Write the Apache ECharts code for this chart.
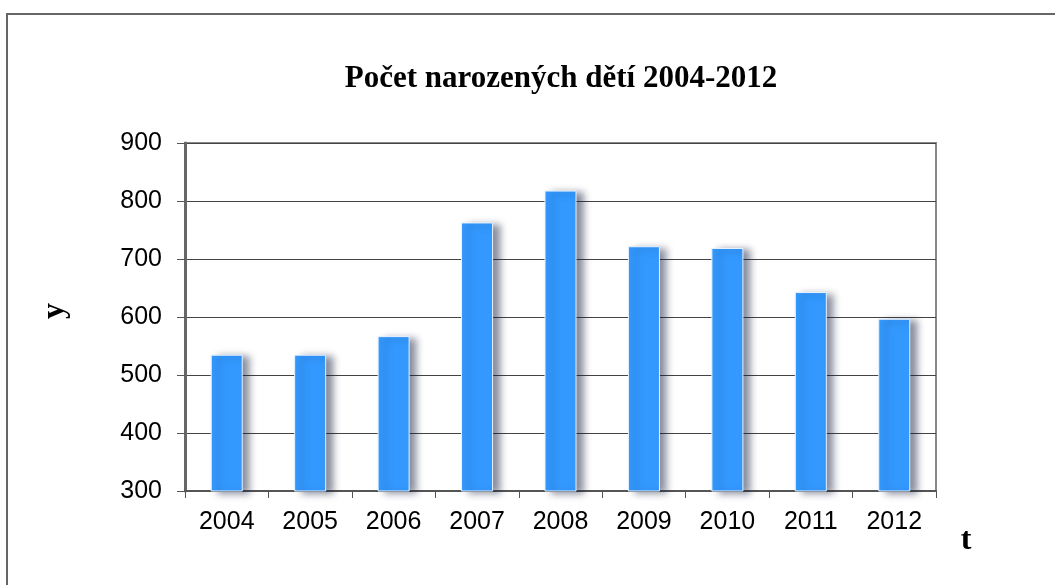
<!DOCTYPE html>
<html>
<head>
<meta charset="utf-8">
<script src="https://cdn.jsdelivr.net/npm/echarts@6/dist/echarts.min.js"></script>
<style>html,body{margin:0;padding:0;background:#fff;}#c{width:1055px;height:585px;}</style>
</head>
<body>
<div id="c"></div>
<script>
const years = ['2004','2005','2006','2007','2008','2009','2010','2011','2012'];
const births = [535, 535, 567, 763, 818, 722, 719, 643, 597];
const yTicks = {min: 300, max: 900, interval: 100};

const chart = echarts.init(document.getElementById('c'));
chart.setOption({
  backgroundColor: '#fff',
  animation: false,
  title: {
    text: 'Počet narozených dětí 2004-2012',
    left: 556, top: 58, textAlign: 'center',
    textStyle: {fontFamily: 'Liberation Serif', fontWeight: 'bold', fontSize: 31, color: '#000'}
  },
  graphic: [{
    type: 'rect', shape: {x: 7, y: 14, width: 1200, height: 800},
    style: {fill: 'none', stroke: '#666', lineWidth: 2}, silent: true, z: -1
  }, {
    type: 'text', x: 966, y: 541,
    style: {text: 't', font: 'bold 32px "Liberation Serif"', fill: '#000', align: 'center', verticalAlign: 'middle'}
  }, {
    type: 'text', x: 55, y: 311, rotation: Math.PI / 2,
    style: {text: 'y', font: 'bold 32px "Liberation Serif"', fill: '#000', align: 'center', verticalAlign: 'middle'}
  }],
  grid: {left: 185, right: 119, top: 143, bottom: 94, show: true, borderColor: '#888', borderWidth: 2, backgroundColor: 'transparent'},
  xAxis: {
    type: 'category', data: years,
    axisLine: {lineStyle: {color: '#555', width: 2}},
    axisTick: {show: true, length: 7, lineStyle: {color: '#555', width: 1}},
    axisLabel: {fontFamily: 'Liberation Sans', fontSize: 25, color: '#000', margin: 19}
  },
  yAxis: {
    type: 'value', min: yTicks.min, max: yTicks.max, interval: yTicks.interval,
    axisLine: {show: true, lineStyle: {color: '#666', width: 3}},
    axisTick: {show: true, length: 8, lineStyle: {color: '#555', width: 1}},
    axisLabel: {fontFamily: 'Liberation Sans', fontSize: 25, color: '#000', margin: 23},
    splitLine: {lineStyle: {color: '#444', width: 1.2}}
  },
  series: [{
    type: 'bar', data: births, barWidth: 32,
    itemStyle: {
      color: '#3399ff', borderColor: '#e6f2ff', borderWidth: 1,
      shadowColor: 'rgba(20,30,60,0.5)', shadowBlur: 7, shadowOffsetX: 7, shadowOffsetY: 2
    }
  }]
});
</script>
</body>
</html>
